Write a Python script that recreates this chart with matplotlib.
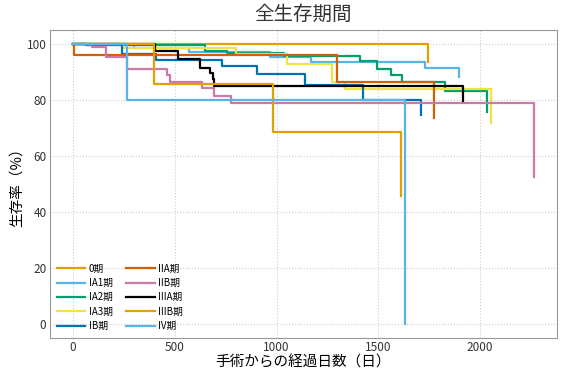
import matplotlib
matplotlib.use("Agg")
import matplotlib.pyplot as plt

plt.rcParams['font.family'] = ['Noto Sans CJK JP', 'DejaVu Sans']

stages = ["0期", "IA1期", "IA2期", "IA3期", "IB期", "IIA期", "IIB期", "IIIA期", "IIIB期", "IV期"]
colors = ["#E69F00", "#56B4E9", "#009E73", "#F0E442", "#0072B2",
          "#D55E00", "#CC79A7", "#000000", "#E69F00", "#56B4E9"]

t_0 = [0, 1745]
s_0 = [100, 93.6]

t_ia1 = [0, 57, 300, 570, 970, 1170, 1730, 1897]
s_ia1 = [100, 99.5, 98.6, 97.1, 95.2, 93.6, 91.3, 88.3]

t_ia2 = [0, 64, 650, 758, 1037, 1408, 1491, 1563, 1616, 1826, 2033]
s_ia2 = [100, 99.5, 97.6, 96.8, 95.7, 93.9, 91.0, 88.9, 86.5, 83.0, 75.5]

t_ia3 = [0, 245, 800, 1050, 1271, 1338, 2051]
s_ia3 = [100, 98.4, 96.4, 92.9, 86.5, 83.8, 71.7]

t_ib = [0, 242, 406, 733, 904, 1140, 1424, 1708]
s_ib = [100, 96.4, 94.3, 92.1, 89.2, 85.4, 80.0, 74.6]

t_iia = [0, 5, 1299, 1773]
s_iia = [100, 96.0, 86.4, 73.7]

t_iib = [0, 96, 161, 267, 463, 476, 634, 694, 777, 2263]
s_iib = [100, 98.8, 95.3, 91.0, 88.9, 86.5, 84.2, 81.4, 78.8, 52.5]

t_iiia = [0, 405, 518, 625, 675, 689, 694, 1916]
s_iiia = [100, 97.5, 94.6, 91.5, 89.7, 87.6, 85.0, 79.6]

t_iiib = [0, 396, 982, 1611]
s_iiib = [100, 85.7, 68.7, 45.5]

t_iv = [0, 267, 1632]
s_iv = [100, 79.8, 0]

times = [t_0, t_ia1, t_ia2, t_ia3, t_ib, t_iia, t_iib, t_iiia, t_iiib, t_iv]
survs = [s_0, s_ia1, s_ia2, s_ia3, s_ib, s_iia, s_iib, s_iiia, s_iiib, s_iv]

fig = plt.figure(figsize=(5.67, 3.78), dpi=100)
ax = fig.add_axes([0.088, 0.106, 0.894, 0.815])

for name, c, t, s in zip(stages, colors, times, survs):
    ax.step(t, s, where='post', color=c, lw=1.6, label=name)

ax.set_xlim(-113, 2376)
ax.set_ylim(-5, 105)
ax.set_xticks([0, 500, 1000, 1500, 2000])
ax.set_yticks([0, 20, 40, 60, 80, 100])
ax.tick_params(labelsize=8.5, colors='#333333', length=0, pad=2.5)
ax.grid(True, linestyle=':', color='#cccccc', lw=0.8)
for sp in ax.spines.values():
    sp.set_color('#999999')

ax.set_title("全生存期間", fontsize=14, pad=7, color='#333333')
ax.set_xlabel("手術からの経過日数（日）", fontsize=10.5, labelpad=1)
ax.set_ylabel("生存率（%）", fontsize=10.5, labelpad=2)

ax.legend(loc='lower left', ncol=2, fontsize=7, frameon=False,
          handlelength=2.9, handletextpad=0.4, columnspacing=1.4,
          labelspacing=0.45, borderaxespad=0.3,
          bbox_to_anchor=(0.0, 0.0))

fig.savefig("out.png", dpi=100)
